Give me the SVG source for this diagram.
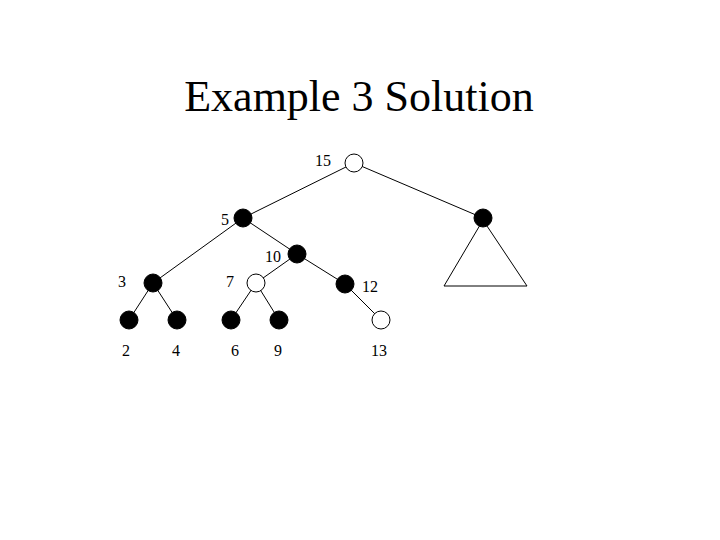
<svg xmlns="http://www.w3.org/2000/svg" width="720" height="540" viewBox="0 0 720 540">
<style>
text{font-family:"Liberation Serif",serif;fill:#000}
.l{font-size:16px}
.t{font-size:44px}
.f{fill:#000;stroke:#000}
.o{fill:#fff;stroke:#000;stroke-width:1}
#edges line,#edges polygon{stroke:#000;stroke-width:1;fill:none}
</style>
<rect width="720" height="540" fill="#fff"/>
<text class="t" x="359" y="111" text-anchor="middle">Example 3 Solution</text>
<g id="edges">
<line x1="354" y1="163" x2="243" y2="218"/>
<line x1="354" y1="163" x2="483" y2="218"/>
<line x1="243" y1="218" x2="153" y2="283"/>
<line x1="243" y1="218" x2="297" y2="254"/>
<line x1="297" y1="254" x2="256" y2="283"/>
<line x1="297" y1="254" x2="345" y2="284"/>
<line x1="153" y1="283" x2="129" y2="320"/>
<line x1="153" y1="283" x2="177" y2="320"/>
<line x1="256" y1="283" x2="231" y2="320"/>
<line x1="256" y1="283" x2="279" y2="320"/>
<line x1="345" y1="284" x2="381" y2="320"/>
<polygon points="483,220 444,286 527,286"/>
</g>
<g id="n15"><circle class="o" cx="354" cy="163" r="9"/><text class="l" x="315" y="166">15</text></g>
<g id="n5"><circle class="f" cx="243" cy="218" r="9"/><text class="l" x="221" y="225">5</text></g>
<g id="nR"><circle class="f" cx="483" cy="218" r="9"/></g>
<g id="n10"><circle class="f" cx="297" cy="254" r="9"/><text class="l" x="265" y="262">10</text></g>
<g id="n3"><circle class="f" cx="153" cy="283" r="9"/><text class="l" x="118" y="287">3</text></g>
<g id="n7"><circle class="o" cx="256" cy="283" r="9"/><text class="l" x="226" y="287">7</text></g>
<g id="n12"><circle class="f" cx="345" cy="284" r="9"/><text class="l" x="362" y="292">12</text></g>
<g id="n2"><circle class="f" cx="129" cy="320" r="9"/><text class="l" x="122" y="356">2</text></g>
<g id="n4"><circle class="f" cx="177" cy="320" r="9"/><text class="l" x="172" y="356">4</text></g>
<g id="n6"><circle class="f" cx="231" cy="320" r="9"/><text class="l" x="231" y="356">6</text></g>
<g id="n9"><circle class="f" cx="279" cy="320" r="9"/><text class="l" x="274" y="356">9</text></g>
<g id="n13"><circle class="o" cx="381" cy="320" r="9"/><text class="l" x="371" y="356">13</text></g>
</svg>
